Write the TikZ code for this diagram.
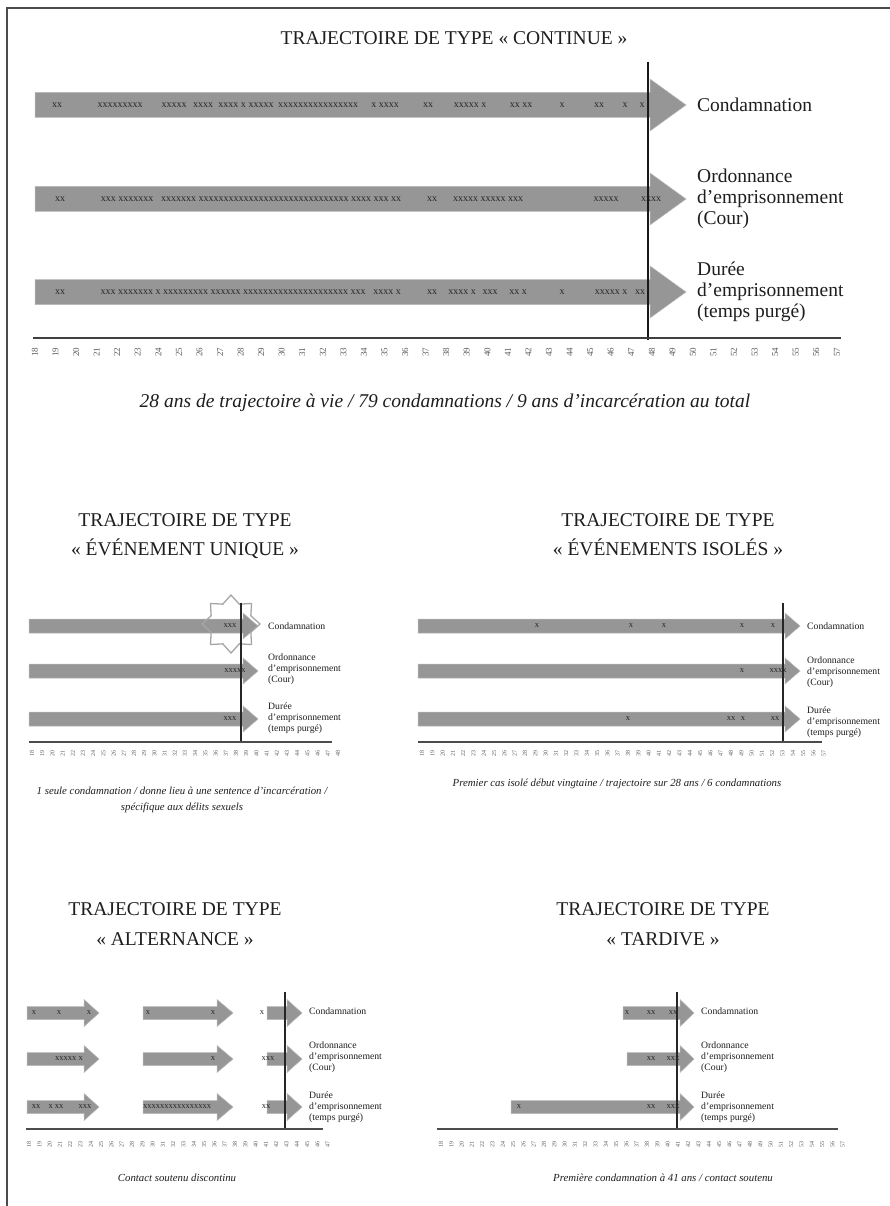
\documentclass[tikz,border=0pt]{standalone}
\usepackage{fontspec}
\setmainfont{Liberation Serif}
\usetikzlibrary{shapes.geometric}
\definecolor{barfill}{RGB}{150,150,150}
\definecolor{barline}{RGB}{185,185,185}
\definecolor{markc}{RGB}{40,40,40}
\definecolor{numc}{RGB}{90,90,90}
\definecolor{framec}{RGB}{75,75,75}
\definecolor{lblc}{RGB}{30,30,30}
\newcommand{\trarrow}[6]{%
  \filldraw[barfill, draw=barline, line width=0.5] (#1,#4-#5) -- (#2,#4-#5) -- (#2,#4-#6) -- (#3,#4) -- (#2,#4+#6) -- (#2,#4+#5) -- (#1,#4+#5) -- cycle;}
\tikzset{
  ttl/.style={font=\fontsize{19.5}{24}\selectfont, anchor=base, inner sep=0, text=lblc},
  lblbig/.style={font=\fontsize{19.5}{21}\selectfont, align=left, anchor=west, inner sep=0, text=lblc},
  lblsm/.style={font=\fontsize{9.7}{11}\selectfont, align=left, anchor=west, inner sep=0, text=lblc},
  mkbig/.style={font=\fontsize{10}{10}\selectfont, text=markc, inner sep=0},
  mksm/.style={font=\fontsize{8.5}{8.5}\selectfont, text=markc, inner sep=0},
  numbig/.style={font=\fontsize{9}{9}\selectfont, text=numc, rotate=90, inner sep=0},
  numsm/.style={font=\fontsize{6}{6}\selectfont, text=numc, rotate=90, inner sep=0},
  capbig/.style={font=\fontsize{19.5}{22}\selectfont\itshape, anchor=base, inner sep=0, text=lblc},
  capsm/.style={font=\fontsize{10.8}{16}\selectfont\itshape, anchor=base, inner sep=0, text=lblc},
  vbig/.style={line width=2, black!90},
  vsm/.style={line width=1.1, black!85},
  axbig/.style={line width=2, black!75},
  axsm/.style={line width=1.1, black!70},
}
\begin{document}
\begin{tikzpicture}[x=1pt, y=-1pt]
\fill[white] (0,0) rectangle (890,1206);
\useasboundingbox (0,0) rectangle (890,1206);
\draw[framec, line width=2] (7,1206) -- (7,8) -- (890,8);

% ================= TOP PANEL : CONTINUE =================
\node[ttl] (t0) at (454,44.5) {TRAJECTOIRE DE TYPE «~CONTINUE~»};
\trarrow{35}{650}{686}{105}{12.5}{26}
\trarrow{35}{650}{686}{199}{12.5}{26}
\trarrow{35}{650}{686}{292}{12.5}{26}
\foreach \p/\s [count=\k] in {57/xx, 120/xxxxxxxxx, 174/xxxxx, 203/xxxx, 232/xxxx x, 261/xxxxx, 318/xxxxxxxxxxxxxxxx, 385/x xxxx, 428/xx, 470/xxxxx x, 521/xx xx, 562/x, 599/xx, 625/x, 642/x}
  \node[mkbig] (ma\k) at (\p,105) {\s};
\foreach \p/\s [count=\k] in {60/xx, 127/xxx xxxxxxx, 281/xxxxxxx xxxxxxxxxxxxxxxxxxxxxxxxxxxxxx xxxx xxx xx, 432/xx, 488/xxxxx xxxxx xxx, 606/xxxxx, 651/xxxx}
  \node[mkbig] (mb\k) at (\p,199) {\s};
\foreach \p/\s [count=\k] in {60/xx, 233/xxx xxxxxxx x xxxxxxxxx xxxxxx xxxxxxxxxxxxxxxxxxxxx xxx, 387/xxxx x, 432/xx, 462/xxxx x, 490/xxx, 518/xx x, 562/x, 611/xxxxx x, 640/xx}
  \node[mkbig] (mc\k) at (\p,292) {\s};
\draw[vbig] (648,62) -- (648,340);
\draw[axbig] (33,338) -- (841,338);
\node[lblbig] (la1) at (697,105) {Condamnation};
\node[lblbig] (la2) at (697,199) {Ordonnance\\d’emprisonnement\\(Cour)};
\node[lblbig] (la3) at (697,292) {Durée\\d’emprisonnement\\(temps purgé)};
\foreach \i in {0,...,39}{\pgfmathtruncatemacro{\n}{18+\i}\node[numbig] (tn\i) at ({35+20.56*\i},352) {\n};}
\node[capbig] (c0) at (445,407) {28 ans de trajectoire à vie / 79 condamnations / 9 ans d’incarcération au total};

% ================= MIDDLE LEFT : EVENEMENT UNIQUE =================
\node[ttl] (t1a) at (185,526.5) {TRAJECTOIRE DE TYPE};
\node[ttl] (t1b) at (185,555.5) {«~ÉVÉNEMENT UNIQUE~»};
\trarrow{29}{243}{258}{626}{7}{13}
\trarrow{29}{243}{258}{671}{7}{13}
\trarrow{29}{243}{258}{719}{7}{13}
\node[star, star points=8, star point ratio=1.35, minimum size=58, inner sep=0, draw=black!35, line width=1.3] (star1) at (231,624) {};
\node[mksm] (m1a) at (230,626) {xxx};
\node[mksm] (m1b) at (235,671) {xxxxx};
\node[mksm] (m1c) at (230,719) {xxx};
\draw[vsm] (241,603) -- (241,742);
\draw[axsm] (29,742) -- (332,742);
\node[lblsm] (l1a) at (268,626) {Condamnation};
\node[lblsm] (l1b) at (268,669) {Ordonnance\\d’emprisonnement\\(Cour)};
\node[lblsm] (l1c) at (268,718) {Durée\\d’emprisonnement\\(temps purgé)};
\foreach \i in {0,...,30}{\pgfmathtruncatemacro{\n}{18+\i}\node[numsm] (n1\i) at ({32+10.2*\i},753) {\n};}
\node[capsm] (c1a) at (182,794) {1 seule condamnation / donne lieu à une sentence d’incarcération /};
\node[capsm] (c1b) at (182,810) {spécifique aux délits sexuels};

% ================= MIDDLE RIGHT : EVENEMENTS ISOLES =================
\node[ttl] (t2a) at (668,526.5) {TRAJECTOIRE DE TYPE};
\node[ttl] (t2b) at (668,555.5) {«~ÉVÉNEMENTS ISOLÉS~»};
\trarrow{418}{785}{800}{626}{7}{13}
\trarrow{418}{785}{800}{671}{7}{13}
\trarrow{418}{785}{800}{719}{7}{13}
\foreach \p/\s [count=\k] in {537/x, 631/x, 664/x, 742/x, 773/x}
  \node[mksm] (m2a\k) at (\p,626) {\s};
\foreach \p/\s [count=\k] in {742/x, 778/xxxx}
  \node[mksm] (m2b\k) at (\p,671) {\s};
\foreach \p/\s [count=\k] in {628/x, 731/xx, 743/x, 775/xx}
  \node[mksm] (m2c\k) at (\p,719) {\s};
\draw[vsm] (783,603) -- (783,742);
\draw[axsm] (418,742) -- (822,742);
\node[lblsm] (l2a) at (807,626) {Condamnation};
\node[lblsm] (l2b) at (807,672) {Ordonnance\\d’emprisonnement\\(Cour)};
\node[lblsm] (l2c) at (807,722) {Durée\\d’emprisonnement\\(temps purgé)};
\foreach \i in {0,...,39}{\pgfmathtruncatemacro{\n}{18+\i}\node[numsm] (n2\i) at ({422+10.3*\i},753) {\n};}
\node[capsm] (c2) at (617,786) {Premier cas isolé début vingtaine / trajectoire sur 28 ans / 6 condamnations};

% ================= BOTTOM LEFT : ALTERNANCE =================
\node[ttl] (t3a) at (175,915.5) {TRAJECTOIRE DE TYPE};
\node[ttl] (t3b) at (175,945.5) {«~ALTERNANCE~»};
\foreach \yy in {1013,1059,1107}{
  \trarrow{27}{84}{99}{\yy}{6.5}{13.5}
  \trarrow{143}{217}{233}{\yy}{6.5}{13.5}
  \trarrow{267}{287}{302}{\yy}{6.5}{13.5}
}
\foreach \p/\s [count=\k] in {34/x, 59/x, 89/x, 148/x, 213/x, 262/x}
  \node[mksm] (m3a\k) at (\p,1013) {\s};
\foreach \p/\s [count=\k] in {69/xxxxx x, 213/x, 268/xxx}
  \node[mksm] (m3b\k) at (\p,1059) {\s};
\foreach \p/\s [count=\k] in {36/xx, 56/x xx, 85/xxx, 177/xxxxxxxxxxxxxxxx, 266/xx}
  \node[mksm] (m3c\k) at (\p,1107) {\s};
\draw[vsm] (285,992) -- (285,1129);
\draw[axsm] (26,1129) -- (323,1129);
\node[lblsm] (l3a) at (309,1011) {Condamnation};
\node[lblsm] (l3b) at (309,1057) {Ordonnance\\d’emprisonnement\\(Cour)};
\node[lblsm] (l3c) at (309,1107) {Durée\\d’emprisonnement\\(temps purgé)};
\foreach \i in {0,...,29}{\pgfmathtruncatemacro{\n}{18+\i}\node[numsm] (n3\i) at ({29+10.3*\i},1144) {\n};}
\node[capsm] (c3) at (177,1181) {Contact soutenu discontinu};

% ================= BOTTOM RIGHT : TARDIVE =================
\node[ttl] (t4a) at (663,915.5) {TRAJECTOIRE DE TYPE};
\node[ttl] (t4b) at (663,945.5) {«~TARDIVE~»};
\trarrow{623}{680}{694}{1013}{6.5}{13.5}
\trarrow{627}{680}{694}{1059}{6.5}{13.5}
\trarrow{511}{680}{694}{1107}{6.5}{13.5}
\foreach \p/\s [count=\k] in {627/x, 651/xx, 673/xx}
  \node[mksm] (m4a\k) at (\p,1013) {\s};
\foreach \p/\s [count=\k] in {651/xx, 673/xxx}
  \node[mksm] (m4b\k) at (\p,1059) {\s};
\foreach \p/\s [count=\k] in {519/x, 651/xx, 673/xxx}
  \node[mksm] (m4c\k) at (\p,1107) {\s};
\draw[vsm] (677,992) -- (677,1129);
\draw[axsm] (437,1129) -- (838,1129);
\node[lblsm] (l4a) at (701,1011) {Condamnation};
\node[lblsm] (l4b) at (701,1057) {Ordonnance\\d’emprisonnement\\(Cour)};
\node[lblsm] (l4c) at (701,1107) {Durée\\d’emprisonnement\\(temps purgé)};
\foreach \i in {0,...,39}{\pgfmathtruncatemacro{\n}{18+\i}\node[numsm] (n4\i) at ({441+10.3*\i},1144) {\n};}
\node[capsm] (c4) at (663,1181) {Première condamnation à 41 ans / contact soutenu};
\end{tikzpicture}
\end{document}
